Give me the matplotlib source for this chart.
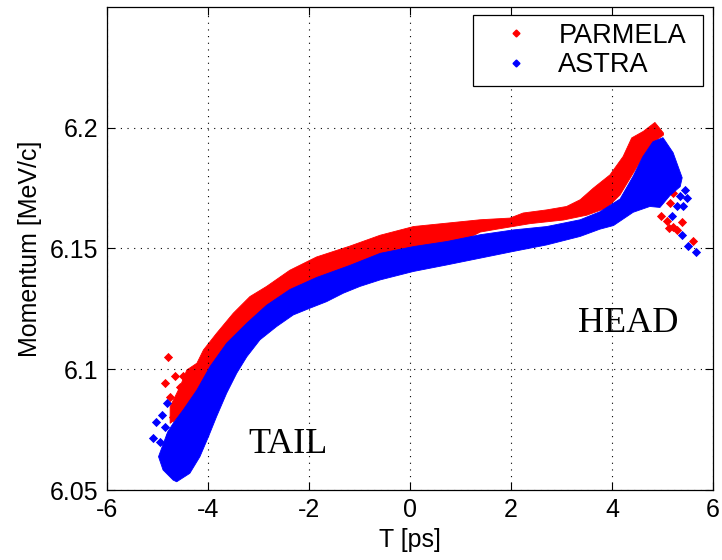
import numpy as np
import matplotlib
matplotlib.use('Agg')
import matplotlib.pyplot as plt

plt.rcParams['font.family'] = ['Liberation Sans', 'DejaVu Sans']

# band edges, T [ps] / momentum [MeV/c]
red_top_t = [-4.75, -4.75, -4.55, -4.42, -4.22, -4.09, -3.83, -3.50, -3.17, -2.84, -2.38, -1.85, -1.19,
             -0.59, 0.07, 0.73, 1.39, 1.98, 2.24, 2.71, 3.10, 3.37, 3.63, 3.96, 4.22, 4.39, 4.62, 4.85, 5.02]
red_top_p = [6.0776, 6.0845, 6.0930, 6.0997, 6.1025, 6.1080, 6.1149, 6.1232, 6.1301, 6.1343, 6.1410, 6.1465,
             6.1510, 6.1555, 6.1591, 6.1605, 6.1619, 6.1626, 6.1647, 6.1660, 6.1674, 6.1702, 6.1750, 6.1805,
             6.1881, 6.1958, 6.1985, 6.2022, 6.1978]
red_bot_t = [-4.75, -4.40, -4.00, -3.50, -3.00, -2.00, -1.00, 0.00, 1.00, 1.39, 1.72, 2.38, 3.04, 3.50,
             3.90, 4.16, 4.42, 4.69, 4.89, 5.02]
red_bot_p = [6.0776, 6.0830, 6.0920, 6.1060, 6.1160, 6.1300, 6.1400, 6.1470, 6.1525, 6.1568, 6.1580, 6.1603,
             6.1618, 6.1638, 6.1668, 6.1722, 6.1812, 6.1905, 6.1950, 6.1970]

blue_top_t = [-4.80, -4.69, -4.49, -4.22, -3.96, -3.63, -3.23, -2.84, -2.38, -1.85, -1.19, -0.59, 0.07,
              0.73, 1.39, 2.05, 2.71, 3.37, 3.76, 4.16, 4.42, 4.61, 4.81, 5.01]
blue_top_p = [6.0740, 6.0776, 6.0832, 6.0914, 6.1011, 6.1108, 6.1191, 6.1265, 6.1330, 6.1380, 6.1430, 6.1480,
              6.1508, 6.1529, 6.1557, 6.1577, 6.1591, 6.1619, 6.1652, 6.1705, 6.1800, 6.1880, 6.1942, 6.1959]
blue_bot_t = [-4.80, -4.98, -4.89, -4.69, -4.62, -4.36, -4.16, -3.99, -3.83, -3.63, -3.43, -3.23, -2.97,
              -2.64, -2.31, -1.98, -1.65, -1.32, -0.99, -0.59, 0.07, 0.73, 1.39, 2.05, 2.71, 3.37, 3.76,
              4.03, 4.42, 4.75, 4.95, 5.15, 5.35, 5.39, 5.21, 5.01]
blue_bot_p = [6.0740, 6.0638, 6.0583, 6.0541, 6.0534, 6.0569, 6.0638, 6.0721, 6.0804, 6.0901, 6.0984, 6.1052,
              6.1122, 6.1177, 6.1225, 6.1253, 6.1280, 6.1315, 6.1343, 6.1370, 6.1405, 6.1432, 6.1460, 6.1488,
              6.1515, 6.1550, 6.1580, 6.1595, 6.1650, 6.1674, 6.1670, 6.1720, 6.1756, 6.1793, 6.1897, 6.1959]

# stray particles
red_out_t = [-4.79, -4.85, -4.65, -4.49, -4.36, -4.75, -4.55, -4.42, -4.36, -4.55, -4.69, -4.62,
             4.98, 5.08, 5.21, 5.38, 5.61, 5.18, 5.21, 5.18, 5.15, 5.12, 5.28]
red_out_p = [6.1052, 6.0942, 6.0970, 6.0970, 6.0984, 6.0887, 6.0928, 6.0873, 6.0859, 6.0825, 6.0804, 6.0762,
             6.1633, 6.1612, 6.1591, 6.1608, 6.1529, 6.1785, 6.1730, 6.1826, 6.1688, 6.1584, 6.1577]
blue_out_t = [-4.82, -4.92, -5.02, -4.85, -5.08, -4.95, -4.75, -4.65,
              5.48, 5.28, 5.41, 5.18, 5.38, 5.51, 5.66, 5.45, 5.35]
blue_out_p = [6.0859, 6.0811, 6.0783, 6.0762, 6.0714, 6.0700, 6.0728, 6.0693,
              6.1709, 6.1674, 6.1674, 6.1633, 6.1557, 6.1511, 6.1486, 6.1743, 6.1716]

x_ticks = [-6, -4, -2, 0, 2, 4, 6]
y_ticks = [6.05, 6.1, 6.15, 6.2]

fig = plt.figure(figsize=(7.22, 5.6), dpi=100)
ax = fig.add_axes([107/722, 70/560, 606/722, 483/560])

red = '#ff0000'
blue = '#0000ff'

ax.fill(np.concatenate([red_bot_t, red_top_t[::-1]]), np.concatenate([red_bot_p, red_top_p[::-1]]),
        facecolor=red, edgecolor=red, lw=0.6, zorder=2)
ax.scatter(red_out_t, red_out_p, marker='D', s=22, c=red, lw=0, zorder=2)
ax.fill(np.concatenate([blue_bot_t, blue_top_t[::-1]]), np.concatenate([blue_bot_p, blue_top_p[::-1]]),
        facecolor=blue, edgecolor=blue, lw=0.6, zorder=3)
ax.scatter(blue_out_t, blue_out_p, marker='D', s=22, c=blue, lw=0, zorder=3)

# legend handles only
ax.plot([], [], 'D', ms=3.5, color=red, label='PARMELA')
ax.plot([], [], 'D', ms=3.5, color=blue, label='ASTRA')

ax.text(-3.21, 6.0653, 'TAIL', family=['Liberation Serif'], fontsize=26, zorder=5)
ax.text(3.33, 6.1155, 'HEAD', family=['Liberation Serif'], fontsize=26, zorder=5)

ax.set_xlim(-6, 6)
ax.set_ylim(6.05, 6.25)
ax.set_xticks(x_ticks)
ax.set_xticklabels([str(v) for v in x_ticks])
ax.set_yticks(y_ticks)
ax.set_yticklabels(['6.05', '6.1', '6.15', '6.2'])
ax.tick_params(direction='in', top=True, right=True, length=6, width=0.8, labelsize=18, pad=6)
ax.grid(True, color='black', linestyle=(0, (1, 5)), linewidth=0.8)
ax.set_axisbelow(False)
for s in ax.spines.values():
    s.set_linewidth(0.9)
    s.set_zorder(6)

ax.set_xlabel('T [ps]', fontsize=18, labelpad=4)
ax.set_ylabel('Momentum [MeV/c]', fontsize=18, labelpad=6)

# legend box spans roughly x 473..703 px, top at 15 px
leg = ax.legend(loc='upper left', bbox_to_anchor=(0.604, 0.5, 0.3795, 0.484), mode='expand',
                borderaxespad=0, fontsize=19.5, handlelength=2.6, handletextpad=0.25,
                labelspacing=0.12, borderpad=0.3, fancybox=False, framealpha=1, edgecolor='black')
leg.get_frame().set_linewidth(0.9)
leg.set_zorder(10)

fig.savefig('out.png', dpi=100)
